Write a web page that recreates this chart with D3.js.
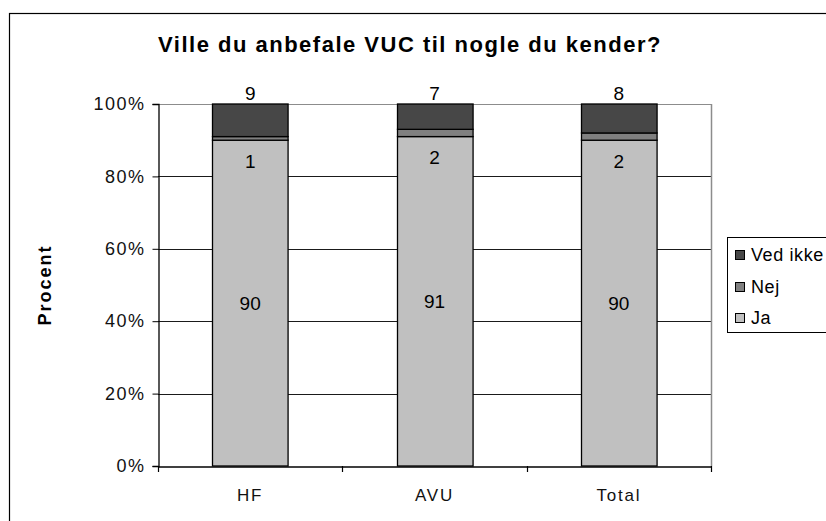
<!DOCTYPE html>
<html>
<head>
<meta charset="utf-8">
<script src="https://cdn.jsdelivr.net/npm/d3@7"></script>
<style>
  body { margin: 0; background: #fff; }
  svg { display: block; }
</style>
</head>
<body>
<script>
(function(){

    //chart data
    var categories = ["HF", "AVU", "Total"];
    var seriesNames = ["Ja", "Nej", "Ved ikke"];
    var ja = [90, 91, 90];
    var nej = [1, 2, 2];
    var vedIkke = [9, 7, 8];
    var yTicks = [0, 20, 40, 60, 80, 100];
    var colors = ["#c0c0c0", "#808080", "#474747"];

    var font = "Arial, 'Liberation Sans', sans-serif";

    //frame dimensions
    var width = 826,
        height = 521,
        left = 158,
        right = 711,
        top = 104,
        bottom = 466;

    var svg = d3.select("body")
        .append("svg")
        .attr("width", width)
        .attr("height", height)
        .attr("font-family", font);

    svg.append("rect")
        .attr("width", width)
        .attr("height", height)
        .attr("fill", "#fff");

    //outer chart border (runs off the page on right and bottom)
    svg.append("rect")
        .attr("x", 9.5)
        .attr("y", 13.5)
        .attr("width", 900)
        .attr("height", 600)
        .attr("fill", "none")
        .attr("stroke", "#000")
        .attr("stroke-width", 1.2);

    //build the table the stack needs
    var table = categories.map(function(c, i){
        return { cat: c, "Ja": ja[i], "Nej": nej[i], "Ved ikke": vedIkke[i] };
    });
    var stacked = d3.stack().keys(seriesNames)(table);

    var x = d3.scaleBand()
        .domain(categories)
        .range([left, right]);

    var y = d3.scaleLinear()
        .domain([0, 100])
        .range([bottom, top]);

    var barWidth = x.bandwidth() * 0.41;

    //gridlines
    svg.append("g")
        .selectAll("line")
        .data(yTicks.filter(function(t){ return t > 0; }))
        .enter()
        .append("line")
        .attr("x1", left)
        .attr("x2", right)
        .attr("y1", function(d){ return Math.round(y(d)) + 0.5; })
        .attr("y2", function(d){ return Math.round(y(d)) + 0.5; })
        .attr("stroke", function(d){ return d == 100 ? "#8c8c8c" : "#1a1a1a"; })
        .attr("stroke-width", 1);

    //plot area right border
    svg.append("line")
        .attr("x1", right + 0.5)
        .attr("x2", right + 0.5)
        .attr("y1", top)
        .attr("y2", bottom)
        .attr("stroke", "#8c8c8c")
        .attr("stroke-width", 1.5);

    //stacked bars
    var layers = svg.append("g")
        .selectAll("g")
        .data(stacked)
        .enter()
        .append("g")
        .attr("fill", function(d, i){ return colors[i]; });

    layers.selectAll("rect")
        .data(function(d){ return d; })
        .enter()
        .append("rect")
        .attr("x", function(d){ return Math.round(x(d.data.cat) + (x.bandwidth() - barWidth) / 2) + 0.5; })
        .attr("width", barWidth)
        .attr("y", function(d){ return y(d[1]); })
        .attr("height", function(d){ return y(d[0]) - y(d[1]); })
        .attr("stroke", "#000")
        .attr("stroke-width", 1.3);

    //value labels
    var labels = svg.append("g")
        .attr("font-size", 19)
        .attr("text-anchor", "middle");

    categories.forEach(function(c, i){
        var cx = x(c) + x.bandwidth() / 2;
        labels.append("text")
            .attr("x", cx)
            .attr("y", y(ja[i] / 2))
            .attr("dy", "0.35em")
            .text(ja[i]);
        labels.append("text")
            .attr("x", cx)
            .attr("y", y(ja[i]) + 21)
            .attr("dy", "0.35em")
            .text(nej[i]);
        labels.append("text")
            .attr("x", cx)
            .attr("y", y(100) - 11)
            .attr("dy", "0.35em")
            .text(vedIkke[i]);
    });

    //y axis
    var yAxis = svg.append("g")
        .attr("transform", "translate(" + (left + 0.5) + ",0)")
        .call(d3.axisLeft(y)
            .tickValues(yTicks)
            .tickSize(6)
            .tickPadding(7)
            .tickFormat(function(d){ return d + "%"; }));
    yAxis.attr("font-family", font);
    yAxis.select(".domain").attr("stroke", "#000").attr("stroke-width", 1.3);
    yAxis.selectAll("text")
        .attr("font-size", 18)
        .attr("fill", "#111")
        .attr("letter-spacing", 1.5);

    //x axis
    var xAxis = svg.append("g")
        .attr("transform", "translate(0," + (bottom + 0.5) + ")")
        .call(d3.axisBottom(x).tickSize(0).tickPadding(22));
    xAxis.attr("font-family", font);
    xAxis.select(".domain").attr("stroke", "#000").attr("stroke-width", 1.3);
    xAxis.selectAll("text")
        .attr("font-size", 17)
        .attr("fill", "#111")
        .attr("letter-spacing", 1.8);

    //x tick marks sit between the categories
    var boundaries = categories.map(function(c){ return x(c); }).concat([right]);
    svg.append("g")
        .selectAll("line")
        .data(boundaries)
        .enter()
        .append("line")
        .attr("x1", function(d){ return Math.round(d) + 0.5; })
        .attr("x2", function(d){ return Math.round(d) + 0.5; })
        .attr("y1", bottom)
        .attr("y2", bottom + 6)
        .attr("stroke", "#000")
        .attr("stroke-width", 1.2);

    //title
    svg.append("text")
        .attr("x", 410)
        .attr("y", 52)
        .attr("text-anchor", "middle")
        .attr("font-weight", "bold")
        .attr("font-size", 22)
        .attr("letter-spacing", 1.5)
        .text("Ville du anbefale VUC til nogle du kender?");

    //y axis title
    svg.append("text")
        .attr("transform", "translate(45," + ((top + bottom) / 2) + ") rotate(-90)")
        .attr("text-anchor", "middle")
        .attr("dy", "0.35em")
        .attr("font-weight", "bold")
        .attr("font-size", 18)
        .attr("letter-spacing", 2)
        .text("Procent");

    //legend
    var legend = svg.append("g");
    legend.append("rect")
        .attr("x", 727.5)
        .attr("y", 237.5)
        .attr("width", 120)
        .attr("height", 95)
        .attr("fill", "#fff")
        .attr("stroke", "#000")
        .attr("stroke-width", 1);

    var legendOrder = [2, 1, 0];
    legendOrder.forEach(function(s, i){
        var ly = 255 + i * 31.5;
        legend.append("rect")
            .attr("x", 735.5)
            .attr("y", Math.round(ly - 5) + 0.5)
            .attr("width", 9)
            .attr("height", 9)
            .attr("fill", colors[s])
            .attr("stroke", "#000")
            .attr("stroke-width", 1);
        legend.append("text")
            .attr("x", 751)
            .attr("y", ly)
            .attr("dy", "0.35em")
            .attr("font-size", 18)
            .attr("letter-spacing", 0.6)
            .text(seriesNames[s]);
    });

})();
</script>
</body>
</html>
